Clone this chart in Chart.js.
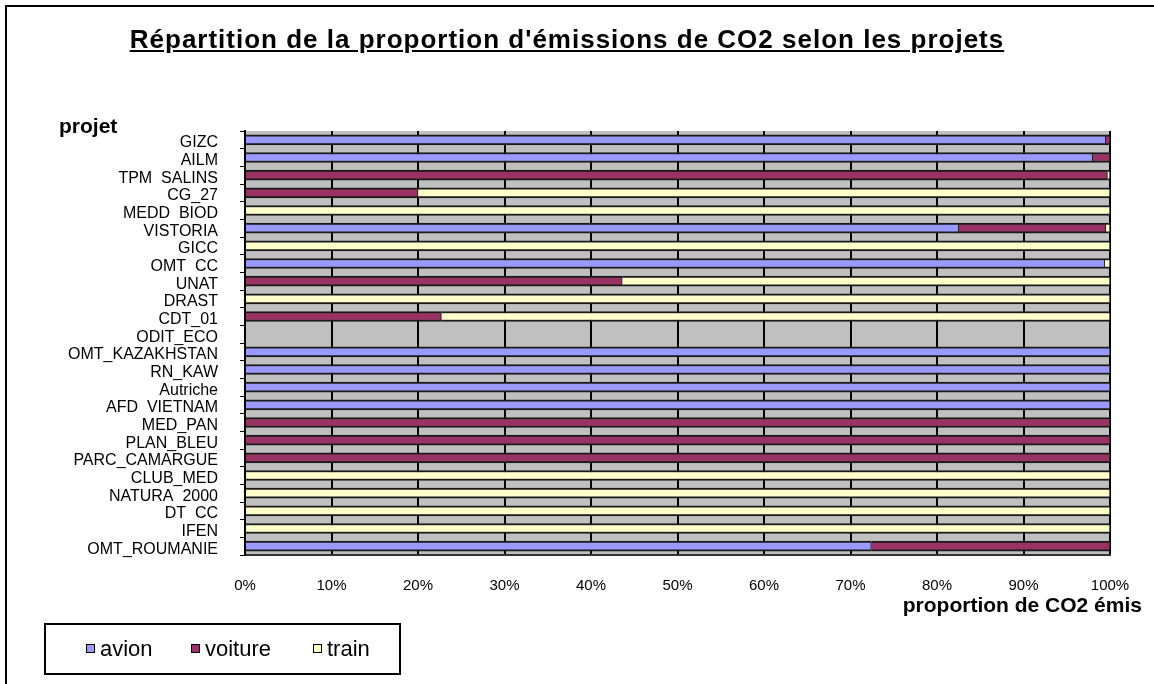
<!DOCTYPE html>
<html>
<head>
<meta charset="utf-8">
<script src="https://cdn.jsdelivr.net/npm/chart.js@4"></script>
<style>
  body { margin: 0; background: #fff; font-family: "Liberation Sans", Arial, sans-serif; }
  #wrap { position: relative; width: 1154px; height: 684px; overflow: hidden; }
  #frame { position: absolute; left: 5px; top: 5px; width: 1170px; height: 700px; border: 2px solid #000; }
  #chart { position: absolute; left: 0; top: 0; }
  #titre { position: absolute; left: 0; top: 26px; width: 1134px; text-align: center;
           font-weight: bold; font-size: 26px; line-height: 26px; letter-spacing: 1px;
           text-decoration: underline; }
  #axeY { position: absolute; left: 59px; top: 115px; font-weight: bold; font-size: 21px; line-height: 21px; }
  #axeX { position: absolute; right: 12px; top: 594px; font-weight: bold; font-size: 21px; line-height: 21px; }
  #legende { position: absolute; left: 44px; top: 623px; width: 357px; height: 52px;
             border: 2px solid #000; box-sizing: border-box; font-size: 22px; }
  #legende span.item { position: absolute; top: 11px; white-space: nowrap; }
  #legende span.carre { display: inline-block; width: 7px; height: 7px; border: 1px solid #000;
                        margin-right: 5px; vertical-align: 3px; }
</style>
</head>
<body>
<div id="wrap">
  <div id="frame"></div>
  <canvas id="chart" width="1154" height="684"></canvas>
  <div id="titre">Répartition de la proportion d'émissions de CO2 selon les projets</div>
  <div id="axeY">projet</div>
  <div id="axeX">proportion de CO2 émis</div>
  <div id="legende"></div>
</div>
<script>
'use strict';

// projets, du haut vers le bas
const projets = ['GIZC', 'AILM', 'TPM  SALINS', 'CG_27', 'MEDD  BIOD', 'VISTORIA', 'GICC', 'OMT  CC',
  'UNAT', 'DRAST', 'CDT_01', 'ODIT_ECO', 'OMT_KAZAKHSTAN', 'RN_KAW', 'Autriche', 'AFD  VIETNAM',
  'MED_PAN', 'PLAN_BLEU', 'PARC_CAMARGUE', 'CLUB_MED', 'NATURA  2000', 'DT  CC', 'IFEN', 'OMT_ROUMANIE'];

// part de chaque mode de transport (%)
const avion   = [99.5, 98, 0, 0, 0, 82.5, 0, 99.4, 0, 0, 0, 0, 100, 100, 100, 100, 0, 0, 0, 0, 0, 0, 0, 72.4];
const voiture = [0.5, 2, 99.7, 20, 0, 17, 0, 0, 43.6, 0, 22.7, 0, 0, 0, 0, 0, 100, 100, 100, 0, 0, 0, 0, 27.6];
const train   = [0, 0, 0.3, 80, 100, 0.5, 100, 0.6, 56.4, 100, 77.3, 0, 0, 0, 0, 0, 0, 0, 0, 100, 100, 100, 100, 0];

const pourcents = [0, 10, 20, 30, 40, 50, 60, 70, 80, 90, 100];

const modes = ['avion', 'voiture', 'train'];
const couleurs = ['#9999FF', '#993366', '#FFFFCC'];
const series = [avion, voiture, train];

// fond gris de la zone de tracé
const fondGris = {
  id: 'fondGris',
  beforeDraw(chart) {
    const { ctx, chartArea: a } = chart;
    ctx.save();
    ctx.fillStyle = '#C0C0C0';
    ctx.fillRect(a.left, a.top, a.right - a.left, a.bottom - a.top);
    ctx.restore();
  }
};

Chart.defaults.font.family = '"Liberation Sans", Arial, sans-serif';
Chart.defaults.color = '#000';

new Chart(document.getElementById('chart').getContext('2d'), {
  type: 'bar',
  data: {
    labels: projets,
    datasets: modes.map((m, i) => ({
      label: m,
      data: series[i],
      backgroundColor: couleurs[i],
      borderColor: '#1a1a1a',
      borderWidth: { top: 2, bottom: 2, left: 0, right: 1 },
      borderSkipped: false,
      barThickness: 10
    }))
  },
  options: {
    indexAxis: 'y',
    responsive: false,
    animation: false,
    layout: { padding: { left: 0, top: 131, right: 44, bottom: 69 } },
    plugins: { legend: { display: false }, tooltip: { enabled: false } },
    scales: {
      x: {
        stacked: true,
        min: 0,
        max: 100,
        afterFit(s) { s.height = 60; },
        afterBuildTicks(s) { s.ticks = pourcents.map(v => ({ value: v })); },
        ticks: {
          padding: 22,
          font: { size: 15 },
          callback: v => v + '%'
        },
        grid: { color: '#000', lineWidth: 2, drawTicks: false },
        border: { display: true, color: '#333', width: 2 }
      },
      y: {
        stacked: true,
        afterFit(s) { s.width = 245; },
        ticks: { padding: 22, labelOffset: 3, font: { size: 16 }, autoSkip: false },
        grid: { drawOnChartArea: false, drawTicks: true, tickLength: 5, tickColor: '#000' },
        border: { display: true, color: '#000', width: 2 }
      }
    }
  },
  plugins: [fondGris]
});

// légende
const legende = document.getElementById('legende');
const posLeg = [40, 145, 267];
modes.forEach((m, i) => {
  const item = document.createElement('span');
  item.className = 'item';
  item.style.left = posLeg[i] + 'px';
  item.innerHTML = '<span class="carre" style="background:' + couleurs[i] + '"></span>' + m;
  legende.appendChild(item);
});
</script>
</body>
</html>
